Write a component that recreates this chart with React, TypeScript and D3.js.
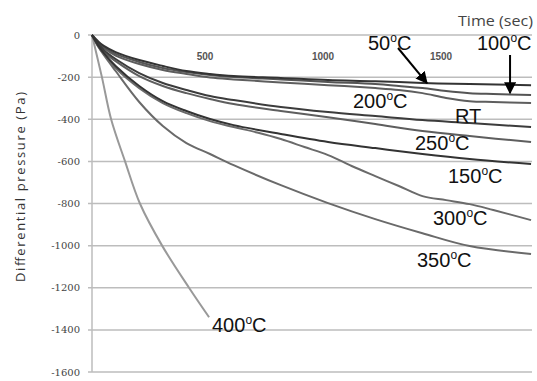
import * as d3 from "d3";

// time axis (sec) sampled for most series
const tBase = [0, 25, 50, 100, 200, 300, 400, 500, 600, 800, 1000, 1200, 1400, 1600, 1860];
const tFine = [0, 25, 50, 100, 200, 300, 400, 500, 600, 800, 1000, 1200, 1300, 1400, 1500, 1600, 1700, 1860];
const t300 = [0, 25, 50, 100, 200, 300, 400, 500, 600, 700, 800, 900, 1000, 1100, 1200, 1300, 1400, 1500, 1600, 1700, 1860];
const t400 = [0, 42, 81, 140, 203, 297, 411, 496];

// differential pressure (Pa)
const pRT = [0, -38, -71, -114, -181, -228, -261, -290, -309, -342, -366, -385, -404, -418, -437];
const p50 = [0, -29, -52, -81, -119, -147, -171, -185, -195, -204, -214, -219, -228, -233, -238];
const p100 = [0, -33, -57, -90, -128, -157, -176, -190, -200, -211, -223, -233, -242, -252, -266, -276, -280, -285];
const p150 = [0, -48, -86, -147, -242, -314, -361, -399, -428, -470, -508, -537, -565, -589, -613];
const p200 = [0, -36, -62, -98, -138, -166, -185, -202, -211, -225, -238, -252, -261, -276, -299, -314, -318, -323];
const p250 = [0, -43, -81, -124, -195, -242, -276, -304, -328, -361, -390, -423, -456, -480, -508];
const p300 = [0, -52, -90, -157, -252, -323, -371, -409, -437, -463, -494, -532, -570, -622, -670, -717, -765, -784, -803, -831, -879];
const p350 = [0, -52, -95, -171, -318, -432, -513, -565, -618, -713, -798, -874, -941, -1002, -1040];
const p400 = [0, -200, -400, -600, -800, -1000, -1200, -1340];

const yTicks = [0, -200, -400, -600, -800, -1000, -1200, -1400, -1600];
const xTicks = [500, 1000, 1500];

const series = [
  { name: "400", t: t400, p: p400, color: "#999999" },
  { name: "350", t: tBase, p: p350, color: "#6a6a6a" },
  { name: "300", t: t300, p: p300, color: "#6a6a6a" },
  { name: "250", t: tBase, p: p250, color: "#5e5e5e" },
  { name: "200", t: tFine, p: p200, color: "#5e5e5e" },
  { name: "100", t: tFine, p: p100, color: "#555555" },
  { name: "RT", t: tBase, p: pRT, color: "#3c3c3c" },
  { name: "150", t: tBase, p: p150, color: "#333333" },
  { name: "50", t: tBase, p: p50, color: "#333333" },
];

const W = 537;
const H = 381;
const left = 92;
const right = 532;
const top = 35;
const bottom = 372;

function Label({ x, y, n }: { x: number; y: number; n: string }) {
  return (
    <text x={x} y={y} fontSize={20} fontFamily="Liberation Sans, Arial, sans-serif" fill="#111">
      {n}
      <tspan dy={-8} fontSize={12}>o</tspan>
      <tspan dy={8}>C</tspan>
    </text>
  );
}

export default function App() {
  const x = d3.scaleLinear().domain([0, 1864]).range([left, right]);
  const y = d3.scaleLinear().domain([-1600, 0]).range([bottom, top]);

  const line = d3
    .line<[number, number]>()
    .x((d) => x(d[0]))
    .y((d) => y(d[1]))
    .curve(d3.curveCatmullRom.alpha(0.5));

  const a50 = { x: x(1419), y: y(-228) };
  const a100 = { x: x(1771), y: y(-276) };

  return (
    <svg
      width={W}
      height={H}
      style={{ position: "absolute", left: 0, top: 0, background: "#fff" }}
    >
      <defs>
        <marker id="arr" viewBox="0 0 10 10" refX="9" refY="5" markerWidth="6" markerHeight="6" orient="auto-start-reverse">
          <path d="M0,0 L10,5 L0,10 z" fill="#000" />
        </marker>
      </defs>

      {/* grid */}
      {yTicks.map((v) => (
        <line key={v} x1={left - 4} x2={right} y1={y(v)} y2={y(v)} stroke="#bdbdbd" strokeWidth={1.5} />
      ))}
      <line x1={left} x2={left} y1={top} y2={bottom} stroke="#bdbdbd" strokeWidth={1.5} />

      {/* y tick labels */}
      {yTicks.map((v) => (
        <text
          key={v}
          x={80}
          y={y(v)}
          dy="0.35em"
          textAnchor="end"
          fontSize={10}
          fontFamily="DejaVu Serif, serif"
          fill="#444"
        >
          {v}
        </text>
      ))}

      {/* x tick labels */}
      {xTicks.map((v) => (
        <text
          key={v}
          x={x(v) - 5}
          y={60}
          textAnchor="middle"
          fontSize={10}
          fontWeight="bold"
          fontFamily="Liberation Sans, Arial, sans-serif"
          fill="#555"
        >
          {v}
        </text>
      ))}

      <text
        x={458}
        y={26}
        fontSize={14}
        fontFamily="Open Sans, sans-serif"
        fill="#444"
        textLength={75}
        lengthAdjust="spacingAndGlyphs"
      >
        Time (sec)
      </text>

      <text
        transform="translate(25,187) rotate(-90)"
        textAnchor="middle"
        fontSize={13}
        fontFamily="Open Sans, sans-serif"
        fill="#333"
        textLength={190}
        lengthAdjust="spacing"
      >
        Differential pressure (Pa)
      </text>

      {/* series */}
      {series.map((s) => (
        <path
          key={s.name}
          d={line(s.t.map((t, i) => [t, s.p[i]] as [number, number])) || ""}
          fill="none"
          stroke={s.color}
          strokeWidth={2}
        />
      ))}

      {/* arrows */}
      <line x1={398} y1={48} x2={a50.x} y2={a50.y} stroke="#000" strokeWidth={2} markerEnd="url(#arr)" />
      <line x1={a100.x} y1={55} x2={a100.x} y2={a100.y} stroke="#000" strokeWidth={2} markerEnd="url(#arr)" />

      {/* labels */}
      <Label x={368} y={50} n="50" />
      <Label x={477} y={50} n="100" />
      <Label x={353} y={108} n="200" />
      <text x={455} y={123} fontSize={20} fontFamily="Liberation Sans, Arial, sans-serif" fill="#111">RT</text>
      <Label x={415} y={150} n="250" />
      <Label x={448} y={183} n="150" />
      <Label x={433} y={225} n="300" />
      <Label x={417} y={267} n="350" />
      <Label x={212} y={332} n="400" />
    </svg>
  );
}
